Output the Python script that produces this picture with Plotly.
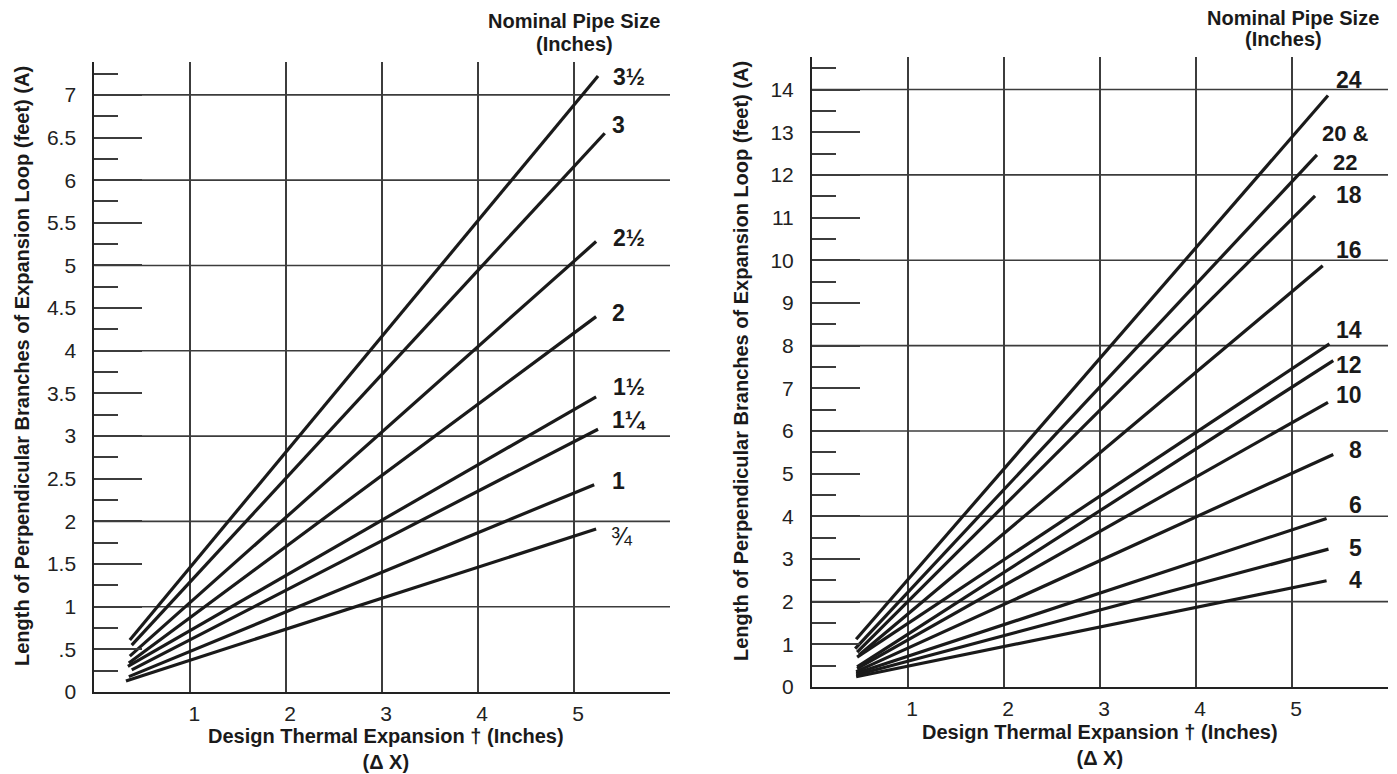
import plotly.graph_objects as go

# ---------------- data ----------------
# Left chart: nominal pipe sizes 3/4" .. 3 1/2"
left_sizes   = ["¾", "1", "1¼", "1½", "2", "2½", "3", "3½"]
left_x_start = [0.33, 0.36, 0.39, 0.35, 0.36, 0.37, 0.39, 0.37]
left_y_start = [0.13, 0.18, 0.26, 0.30, 0.34, 0.42, 0.55, 0.61]
left_x_end   = [5.23, 5.21, 5.25, 5.23, 5.23, 5.23, 5.32, 5.25]
left_y_end   = [1.91, 2.43, 3.08, 3.46, 4.40, 5.28, 6.55, 7.22]

# Right chart: nominal pipe sizes 4" .. 24"
right_sizes   = ["4", "5", "6", "8", "10", "12", "14", "16", "18", "20 & 22", "24"]
right_x_start = [0.46, 0.46, 0.46, 0.46, 0.47, 0.47, 0.47, 0.49, 0.47, 0.45, 0.46]
right_y_start = [0.24, 0.28, 0.32, 0.36, 0.43, 0.47, 0.70, 0.75, 0.82, 0.90, 1.12]
right_x_end   = [5.36, 5.38, 5.36, 5.43, 5.375, 5.43, 5.39, 5.32, 5.24, 5.26, 5.375]
right_y_end   = [2.49, 3.23, 3.95, 5.45, 6.67, 7.65, 8.04, 9.87, 11.51, 12.47, 13.86]

# axis ticks
x_tickvals = [1, 2, 3, 4, 5]
x_ticktext = ["1", "2", "3", "4", "5"]
left_y_tickvals = [0, 0.5, 1, 1.5, 2, 2.5, 3, 3.5, 4, 4.5, 5, 5.5, 6, 6.5, 7]
left_y_ticktext = ["0", ".5", "1", "1.5", "2", "2.5", "3", "3.5", "4", "4.5", "5", "5.5", "6", "6.5", "7"]
left_y_grid = [1, 2, 3, 4, 5, 6, 7]
right_y_tickvals = list(range(0, 15))
right_y_ticktext = [str(v) for v in right_y_tickvals]
right_y_grid = [2, 4, 6, 8, 10, 12, 14]

# ---------------- style / page geometry ----------------
FONT = "Liberation Sans, Arial, Helvetica, sans-serif"
LINE_COLOR = "#1a1a1a"
GRID_COLOR = "#3c3c3c"
PAGE_W, PAGE_H = 1397, 774
OFF = 8                       # default body margin of the html page
FW, FH = PAGE_W - 2 * OFF, PAGE_H - OFF


def fx(px):
    return (px - OFF) / FW


def fy(py):
    return 1 - (py - OFF) / FH


fig = go.Figure()

for xs, ys, xe, ye in zip(left_x_start, left_y_start, left_x_end, left_y_end):
    fig.add_trace(go.Scatter(x=[xs, xe], y=[ys, ye], mode="lines",
                             line=dict(color=LINE_COLOR, width=3.2),
                             xaxis="x", yaxis="y", showlegend=False, hoverinfo="skip"))
for xs, ys, xe, ye in zip(right_x_start, right_y_start, right_x_end, right_y_end):
    fig.add_trace(go.Scatter(x=[xs, xe], y=[ys, ye], mode="lines",
                             line=dict(color=LINE_COLOR, width=3.2),
                             xaxis="x2", yaxis="y2", showlegend=False, hoverinfo="skip"))


def xaxis_cfg(domain, anchor):
    return dict(domain=domain, anchor=anchor, range=[0, 6.0], automargin=False,
                tickmode="array", tickvals=x_tickvals, ticktext=x_ticktext,
                showgrid=True, gridcolor=GRID_COLOR, gridwidth=1.6,
                showline=True, linecolor="#222", linewidth=2,
                zeroline=False, ticks="", ticklabelshift=4, ticklabelstandoff=2,
                tickfont=dict(family=FONT, size=21, color="#222"),
                fixedrange=True)


def yaxis_cfg(domain, anchor, rng, tv, tt, minor_dt):
    return dict(domain=domain, anchor=anchor, range=rng, automargin=False,
                tickmode="array", tickvals=tv, ticktext=tt,
                showgrid=False, showline=True, linecolor="#222", linewidth=2,
                zeroline=False, ticks="inside", ticklen=48, tickwidth=1.6,
                tickcolor=GRID_COLOR, ticklabelstandoff=12,
                minor=dict(dtick=minor_dt, ticks="inside", ticklen=24,
                           tickwidth=1.6, tickcolor=GRID_COLOR, showgrid=False),
                tickfont=dict(family=FONT, size=21, color="#222"),
                fixedrange=True)


fig.update_layout(
    width=FW, height=FH,
    margin=dict(l=0, r=0, t=0, b=0, autoexpand=False),
    paper_bgcolor="white", plot_bgcolor="white",
    xaxis=xaxis_cfg([fx(94.3), fx(670)], "y"),
    yaxis=yaxis_cfg([fy(692), fy(62)], "x", [0, 7.385], left_y_tickvals, left_y_ticktext, 0.25),
    xaxis2=xaxis_cfg([fx(812), fx(1388)], "y2"),
    yaxis2=yaxis_cfg([fy(687), fy(56.7)], "x2", [0, 14.77], right_y_tickvals, right_y_ticktext, 0.5),
)

shapes = []
for v in left_y_grid:
    shapes.append(dict(type="line", xref="x domain", yref="y", x0=0, x1=1, y0=v, y1=v,
                       line=dict(color=GRID_COLOR, width=1.6), layer="below"))
for v in right_y_grid:
    shapes.append(dict(type="line", xref="x2 domain", yref="y2", x0=0, x1=1, y0=v, y1=v,
                       line=dict(color=GRID_COLOR, width=1.6), layer="below"))
fig.update_layout(shapes=shapes)

ann = []


def add_text(text, x, y, xref, yref, size, bold=True, angle=0, xanchor="center"):
    ann.append(dict(text=f"<b>{text}</b>" if bold else text, x=x, y=y, xref=xref, yref=yref,
                    showarrow=False, textangle=angle, xanchor=xanchor, yanchor="middle",
                    font=dict(family=FONT, size=size, color="#1a1a1a")))


# line labels (left)
left_label_pos = {"3½": (5.57, 7.21), "3": (5.46, 6.65), "2½": (5.57, 5.32), "2": (5.46, 4.44),
                  "1½": (5.57, 3.58), "1¼": (5.57, 3.19), "1": (5.46, 2.47), "¾": (5.50, 1.83)}
for s in left_sizes:
    lx, ly = left_label_pos[s]
    if s == "¾":
        add_text(s, lx, ly, "x", "y", 25, bold=False)
    else:
        add_text(s, lx, ly, "x", "y", 23)

# line labels (right)
right_label_pos = {"24": (5.59, 14.22), "20 & 22": (5.56, 12.64), "18": (5.59, 11.54),
                   "16": (5.59, 10.23), "14": (5.59, 8.37), "12": (5.59, 7.55),
                   "10": (5.59, 6.84), "8": (5.665, 5.55), "6": (5.665, 4.27),
                   "5": (5.665, 3.26), "4": (5.665, 2.51)}
for s in right_sizes:
    lx, ly = right_label_pos[s]
    txt = "20 &<br>22" if s == "20 & 22" else s
    add_text(txt, lx, ly, "x2", "y2", 22 if s == "20 & 22" else 23)

# headers
add_text("Nominal Pipe Size", fx(574), fy(21), "paper", "paper", 20)
add_text("(Inches)", fx(574), fy(44), "paper", "paper", 20)
add_text("Nominal Pipe Size", fx(1292.5), fy(18), "paper", "paper", 20)
add_text("(Inches)", fx(1283), fy(39), "paper", "paper", 20)

# axis titles
ylab = "Length of Perpendicular Branches of Expansion Loop (feet) (A)"
add_text(ylab, fx(22), fy(366), "paper", "paper", 20, angle=-90)
add_text(ylab, fx(741), fy(361), "paper", "paper", 20, angle=-90)
xlab = "Design Thermal Expansion † (Inches)<br>(Δ X)"
add_text(xlab, fx(386), fy(749), "paper", "paper", 20)
add_text(xlab, fx(1100), fy(745), "paper", "paper", 20)

fig.update_layout(annotations=ann)
fig.write_html("out.html")
